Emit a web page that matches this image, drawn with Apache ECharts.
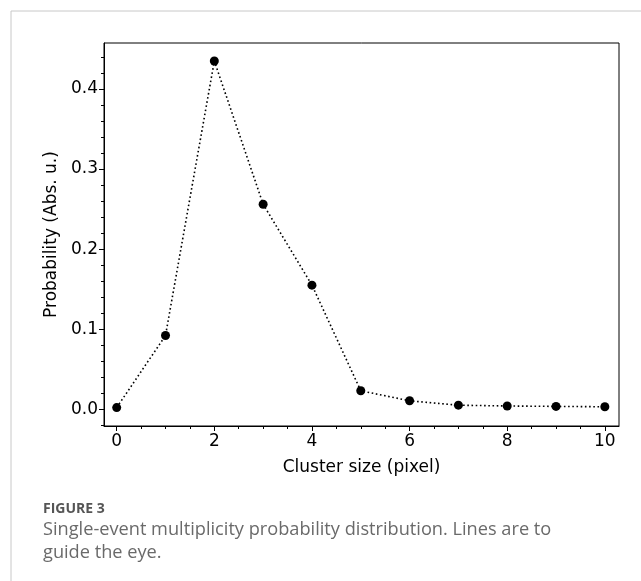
<!DOCTYPE html>
<html>
<head>
<meta charset="utf-8">
<script src="https://cdn.jsdelivr.net/npm/echarts@6/dist/echarts.min.js"></script>
<style>
  html, body { margin: 0; padding: 0; background: #fff; }
  #chart { width: 641px; height: 581px; }
</style>
</head>
<body>
<div id="chart"></div>
<script>
// cluster size (pixel) and probability
const clusterSize = [0, 1, 2, 3, 4, 5, 6, 7, 8, 9, 10];
const probability = [0.002, 0.092, 0.435, 0.256, 0.155, 0.023, 0.0105, 0.005, 0.004, 0.0035, 0.003];

const xMajorTicks = [0, 2, 4, 6, 8, 10];
const xMinorTicks = [0, 0.5, 1, 1.5, 2, 2.5, 3, 3.5, 4, 4.5, 5, 5.5, 6, 6.5, 7, 7.5, 8, 8.5, 9, 9.5, 10];
const yMajorTicks = [0, 0.1, 0.2, 0.3, 0.4];
const yMinorTicks = [-0.02, 0, 0.02, 0.04, 0.06, 0.08, 0.1, 0.12, 0.14, 0.16, 0.18, 0.2, 0.22, 0.24, 0.26, 0.28, 0.3, 0.32, 0.34, 0.36, 0.38, 0.4, 0.42, 0.44];

const xName = 'Cluster size (pixel)';
const yName = 'Probability (Abs. u.)';
const captionTitle = 'FIGURE 3';
const captionLines = ['Single-event multiplicity probability distribution. Lines are to', 'guide the eye.'];

const xRange = [-0.26, 10.29];
const yRange = [-0.021, 0.4575];

const chart = echarts.init(document.getElementById('chart'));

const tickFont = { fontFamily: 'DejaVu Sans', fontSize: 17, color: '#000' };

const points = clusterSize.map((x, i) => [x, probability[i]]);

const option = {
  animation: false,
  backgroundColor: '#fff',
  grid: {
    left: 104, top: 43, width: 515, height: 383,
    show: true, borderColor: '#000', borderWidth: 1, backgroundColor: 'transparent'
  },
  xAxis: [
    {
      type: 'value', min: xRange[0], max: xRange[1],
      axisLine: { show: true, onZero: false, lineStyle: { color: '#000', width: 1 } },
      axisTick: { show: true, length: 5, customValues: xMajorTicks, lineStyle: { color: '#000' } },
      axisLabel: { customValues: xMajorTicks, margin: 7, ...tickFont, formatter: v => String(v) },
      splitLine: { show: false },
      name: xName, nameLocation: 'middle', nameGap: 33,
      nameTextStyle: { fontFamily: 'DejaVu Sans', fontSize: 17, color: '#000' }
    },
    {
      type: 'value', min: xRange[0], max: xRange[1], position: 'bottom',
      axisLine: { show: false, onZero: false },
      axisTick: { show: true, length: 3, customValues: xMinorTicks, lineStyle: { color: '#000' } },
      axisLabel: { show: false },
      splitLine: { show: false }
    }
  ],
  yAxis: [
    {
      type: 'value', min: yRange[0], max: yRange[1],
      axisLine: { show: true, onZero: false, lineStyle: { color: '#000', width: 1 } },
      axisTick: { show: true, length: 5, customValues: yMajorTicks, lineStyle: { color: '#000' } },
      axisLabel: { customValues: yMajorTicks, margin: 6, ...tickFont, formatter: v => v.toFixed(1) },
      splitLine: { show: false },
      name: yName, nameLocation: 'middle', nameGap: 42, nameRotate: 90,
      nameTextStyle: { fontFamily: 'DejaVu Sans', fontSize: 17, color: '#000' }
    },
    {
      type: 'value', min: yRange[0], max: yRange[1], position: 'left',
      axisLine: { show: false, onZero: false },
      axisTick: { show: true, length: 3, customValues: yMinorTicks, lineStyle: { color: '#000' } },
      axisLabel: { show: false },
      splitLine: { show: false }
    }
  ],
  series: [{
    type: 'line',
    data: points,
    xAxisIndex: 0, yAxisIndex: 0,
    symbol: 'circle', symbolSize: 9,
    itemStyle: { color: '#000' },
    lineStyle: { color: '#000', width: 1.6, type: [1.6, 2.6] },
    clip: false
  }],
  graphic: [
    { type: 'line', shape: { x1: 11, y1: 11, x2: 641, y2: 11 }, style: { stroke: '#c8c8c8', lineWidth: 1 } },
    { type: 'line', shape: { x1: 11, y1: 11, x2: 11, y2: 581 }, style: { stroke: '#c8c8c8', lineWidth: 1 } },
    { type: 'text', left: 43, top: 502,
      style: { text: captionTitle, font: 'bold 14px "Open Sans"', fill: '#555' } },
    { type: 'text', left: 43, top: 518,
      style: { text: captionLines.join('\n'), font: '18.2px "Open Sans"', lineHeight: 23, fill: '#6a6a6a' } }
  ]
};

chart.setOption(option);
</script>
</body>
</html>
